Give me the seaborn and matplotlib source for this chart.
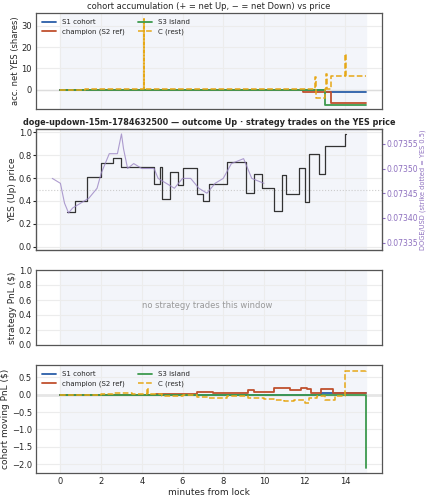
import numpy as np
import matplotlib
matplotlib.use("Agg")
import matplotlib.pyplot as plt
import seaborn as sns

sns.set_style("whitegrid", {"axes.edgecolor": "#555555", "grid.color": "#ececec"})
plt.rcParams['font.family'] = ['DejaVu Sans']

# YES price (step)
yes_t = [0.3,0.7,1.3,2.0,2.6,3.0,4.6,4.9,5.0,5.4,5.8,6.0,6.7,7.0,7.3,8.2,9.1,9.5,9.9,10.5,10.9,11.1,11.7,12.0,12.2,12.7,13.0,14.0,14.05]
yes_v = [0.30,0.40,0.61,0.73,0.78,0.70,0.55,0.70,0.42,0.65,0.54,0.69,0.46,0.40,0.55,0.74,0.47,0.64,0.51,0.31,0.63,0.46,0.69,0.39,0.81,0.64,0.88,0.99,0.99]
# DOGE/USD
doge_t = [-0.4,0.0,0.2,0.4,0.6,1.0,1.4,1.8,2.0,2.4,2.8,3.0,3.1,3.3,3.6,4.0,4.6,4.8,5.2,5.6,6.0,6.4,6.8,7.2,7.6,8.0,8.4,9.0,9.4,10.0]
doge_v = [0.07348,0.07347,0.07343,0.07341,0.07342,0.07343,0.07344,0.07346,0.07349,0.07353,0.07353,0.07357,0.07354,0.07350,0.07351,0.07350,0.07350,0.07348,0.07347,0.07346,0.07348,0.07348,0.07346,0.07345,0.07347,0.07348,0.07351,0.07352,0.07348,0.07347]
# accumulation
acc_t = [0,1.2,1.9,3.0,4.1,4.11,4.12,6.0,10.0,12.45,12.5,12.55,13.0,13.05,13.1,13.3,13.95,14.0,14.05,15]
acc_c = [0,0.2,0.4,0.6,0.6,33,0.6,0.6,0.5,0.5,6,-4,0.5,7.5,0.5,6.3,6.3,17,6.3,6.3]
s1_t = [0,13.0,15]; s1_v = [0,-0.8,-0.8]
ch_t = [0,1.8,11.9,13.3,15]; ch_v = [0,-0.3,-0.8,-6,-6]
s3_t = [0,13.0,15]; s3_v = [0,-7,-7]
# moving PnL
pch_t = [0,4.7,6.7,7.5,9.2,9.5,10.5,11.3,11.8,12.1,12.3,12.8,13.4,15]
pch_v = [0,0.02,0.07,0.04,0.12,0.08,0.18,0.14,0.20,0.15,0.05,0.17,0.05,0.05]
ps1_t = [0,12.8,15]; ps1_v = [0,0.05,0.05]
ps3_t = [0,14.99,15.0]; ps3_v = [0,0,-2.1]
pc_t = [0,2,2.6,3.5,4.2,4.25,4.3,5,6,6.7,7.3,8.2,9.2,10,10.5,11,11.5,12,12.2,12.6,13,13.5,14,15]
pc_v = [0,0.01,0.04,0.03,0.02,0.2,0.02,-0.05,-0.02,-0.07,-0.1,-0.03,-0.1,-0.12,-0.15,-0.18,-0.15,-0.24,-0.1,-0.04,-0.15,-0.05,0.68,0.70]

BLUE, RED, GREEN, ORANGE = "#2a5ea8", "#c0502e", "#3d9a4e", "#e6a817"
fig = plt.figure(figsize=(4.29, 5.0), dpi=100)
L, W = 36/429, 346/429
def ax_at(top, bot):
    return fig.add_axes([L, 1-bot/500, W, (bot-top)/500])
axs = [ax_at(13,109), ax_at(129,250), ax_at(270,345), ax_at(365,473)]
for a in axs:
    a.set_xlim(-1.2, 15.8)
    a.axvspan(0, 15, color="#f3f5fa", zorder=0)
    a.tick_params(labelsize=6, length=2, pad=1)
    for s in a.spines.values(): s.set_linewidth(0.9)
for a in axs[:3]:
    a.set_xticks(range(0,16,2)); a.set_xticklabels([])

a = axs[0]
a.axhline(0, color="#dddddd", lw=1)
sns.lineplot(x=s1_t, y=s1_v, ax=a, drawstyle="steps-post", color=BLUE, lw=1.3, label="S1 cohort")
sns.lineplot(x=ch_t, y=ch_v, ax=a, drawstyle="steps-post", color=RED, lw=1.3, label="champion (S2 ref)")
sns.lineplot(x=s3_t, y=s3_v, ax=a, drawstyle="steps-post", color=GREEN, lw=1.3, label="S3 island")
sns.lineplot(x=acc_t, y=acc_c, ax=a, drawstyle="steps-post", color=ORANGE, lw=1.1, ls="--", label="C (rest)")
a.set_ylim(-9, 36); a.set_yticks([0,10,20,30])
a.set_ylabel("acc. net YES (shares)", fontsize=6, labelpad=1)
a.set_title("cohort accumulation (+ = net Up, − = net Down) vs price", fontsize=6, pad=3)
a.legend(fontsize=5, ncol=2, loc="upper left", frameon=False, handlelength=2)

a = axs[1]
a.axhline(0.5, color="#cccccc", lw=0.8, ls=":")
sns.lineplot(x=yes_t, y=yes_v, ax=a, drawstyle="steps-post", color="#333333", lw=0.9)
a.set_ylim(-0.03, 1.03)
a.set_ylabel("YES (Up) price", fontsize=6.5, labelpad=1)
a.set_title("doge-updown-15m-1784632500 — outcome Up · strategy trades on the YES price", fontsize=5.9, fontweight="bold", pad=3)
b = a.twinx()
sns.lineplot(x=doge_t, y=doge_v, ax=b, color="#9b85c4", lw=0.8, alpha=0.8)
b.set_ylim(0.073335, 0.073580)
b.set_yticks([0.07335,0.07340,0.07345,0.07350,0.07355])
b.set_yticklabels(["0.07335","0.07340","0.07345","0.07350","0.07355"])
b.tick_params(labelsize=5.5, colors="#8d6fbf", length=2, pad=1)
b.grid(False)
b.set_ylabel("DOGE/USD (strike dotted = YES 0.5)", fontsize=4.8, color="#8d6fbf", labelpad=1)

a = axs[2]
a.set_ylim(0, 1)
a.set_yticks([0,0.2,0.4,0.6,0.8,1.0])
a.set_ylabel("strategy PnL ($)", fontsize=6.5, labelpad=1)
a.text(7.2, 0.5, "no strategy trades this window", fontsize=6, color="#999999", ha="center")

a = axs[3]
a.axhline(0, color="#e6e6e6", lw=2)
sns.lineplot(x=ps1_t, y=ps1_v, ax=a, drawstyle="steps-post", color=BLUE, lw=1.3, label="S1 cohort")
sns.lineplot(x=pch_t, y=pch_v, ax=a, drawstyle="steps-post", color=RED, lw=1.3, label="champion (S2 ref)")
sns.lineplot(x=ps3_t, y=ps3_v, ax=a, drawstyle="steps-post", color=GREEN, lw=1.3, label="S3 island")
sns.lineplot(x=pc_t, y=pc_v, ax=a, drawstyle="steps-post", color=ORANGE, lw=1.1, ls="--", label="C (rest)")
a.set_ylim(-2.25, 0.85)
a.set_yticks([-2.0,-1.5,-1.0,-0.5,0.0,0.5])
a.set_ylabel("cohort moving PnL ($)", fontsize=6.5, labelpad=1)
a.set_xlabel("minutes from lock", fontsize=6.5, labelpad=1)
a.set_xticks(range(0,16,2))
a.legend(fontsize=5, ncol=2, loc="upper left", frameon=False, handlelength=2)

fig.savefig("out.png", dpi=100)
